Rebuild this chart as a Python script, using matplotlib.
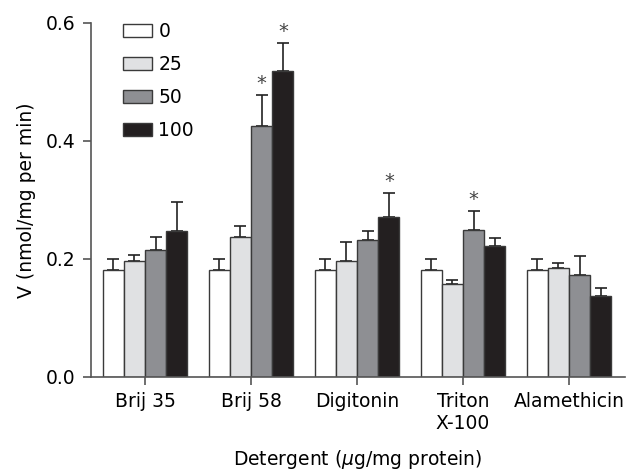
import matplotlib
matplotlib.use("Agg")
import matplotlib.pyplot as plt
import numpy as np

plt.rcParams['font.family'] = ['DejaVu Sans']

categories = ["Brij 35", "Brij 58", "Digitonin", "Triton\nX-100", "Alamethicin"]
series_labels = ["0", "25", "50", "100"]
values = {
    "0":   [0.182, 0.182, 0.182, 0.182, 0.182],
    "25":  [0.197, 0.238, 0.197, 0.158, 0.185],
    "50":  [0.215, 0.425, 0.233, 0.249, 0.173],
    "100": [0.247, 0.519, 0.272, 0.222, 0.138],
}
errors = {
    "0":   [0.018, 0.018, 0.018, 0.018, 0.018],
    "25":  [0.009, 0.018, 0.032, 0.007, 0.009],
    "50":  [0.023, 0.053, 0.014, 0.032, 0.032],
    "100": [0.050, 0.047, 0.039, 0.013, 0.013],
}
significant = {
    "0":   [False, False, False, False, False],
    "25":  [False, False, False, False, False],
    "50":  [False, True, False, True, False],
    "100": [False, True, True, False, False],
}
colors = ["#ffffff", "#e0e1e3", "#8e8f93", "#231f20"]

fs = 13.5
fig = plt.figure(figsize=(6.29, 4.71), dpi=100)
ax = fig.add_axes([0.1447, 0.1996, 0.8489, 0.7516])

x = np.arange(len(categories))
width = 0.2
edge = "#3a3a3a"
for i, lab in enumerate(series_labels):
    pos = x + (i - 1.5) * width
    ax.bar(pos, values[lab], width, color=colors[i], edgecolor=edge,
           linewidth=1.0, label=lab, zorder=2)
    ax.errorbar(pos, values[lab], yerr=[np.zeros(len(x)), errors[lab]],
                fmt="none", ecolor="#222222", elinewidth=1.2, capsize=4,
                capthick=1.2, zorder=1)
    for j in range(len(x)):
        if significant[lab][j]:
            ax.text(pos[j], values[lab][j] + errors[lab][j] + 0.004, "*",
                    ha="center", va="bottom", fontsize=14, color="#444444")

ax.set_xlim(-0.51, len(categories) - 1 + 0.528)
ax.set_ylim(0, 0.6)
ax.set_yticks([0.0, 0.2, 0.4, 0.6])
ax.set_yticklabels(["0.0", "0.2", "0.4", "0.6"])
ax.set_xticks(x)
ax.set_xticklabels(categories, linespacing=1.15)
ax.tick_params(axis="both", labelsize=fs, color="#555555", length=6,
               width=1.2, pad=5)
for s in ["top", "right"]:
    ax.spines[s].set_visible(False)
for s in ["left", "bottom"]:
    ax.spines[s].set_color("#555555")
    ax.spines[s].set_linewidth(1.2)

ax.set_ylabel("V (nmol/mg per min)", fontsize=fs, labelpad=7)
ax.set_xlabel(r"Detergent ($\mu$g/mg protein)", fontsize=fs, labelpad=11)

leg = ax.legend(loc="upper left", bbox_to_anchor=(0.035, 1.04), frameon=False,
                fontsize=fs, handlelength=1.55, handleheight=0.7,
                handletextpad=0.35, labelspacing=0.75, borderaxespad=0.3)
for h in leg.legend_handles:
    h.set_edgecolor(edge)

fig.savefig("out.png", dpi=100)
